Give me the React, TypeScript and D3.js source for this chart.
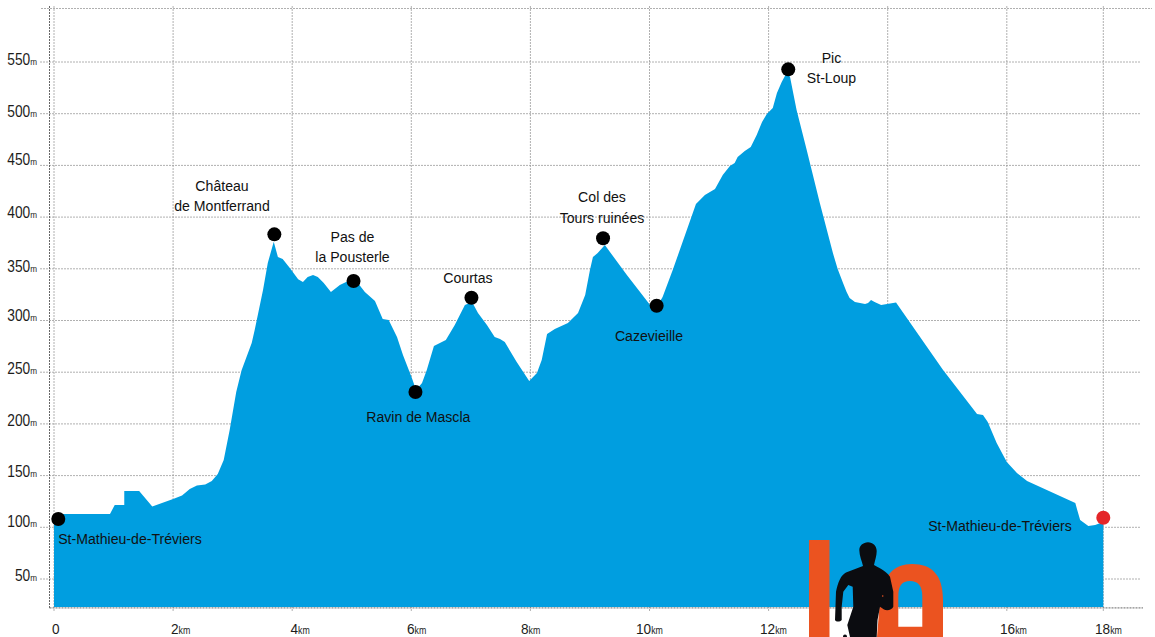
import React from "react";
import * as d3 from "d3";

const distanceKm = [0,0.94,1.02,1.18,1.18,1.43,1.65,2,2.15,2.28,2.4,2.54,2.65,2.75,2.85,2.95,3.06,3.15,3.32,3.37,3.51,3.59,3.69,3.76,3.84,3.96,4.1,4.18,4.26,4.35,4.43,4.53,4.65,4.8,4.94,5.09,5.22,5.39,5.52,5.62,5.76,5.86,6.01,6.08,6.18,6.26,6.38,6.58,6.73,6.9,7.02,7.12,7.27,7.4,7.49,7.57,7.77,7.98,8.11,8.19,8.28,8.41,8.63,8.8,8.92,9,9.05,9.13,9.25,9.62,10.01,10.12,10.22,10.39,10.78,10.93,11.1,11.23,11.35,11.43,11.48,11.6,11.7,11.8,11.89,11.97,12.07,12.14,12.22,12.31,12.36,12.47,12.64,12.86,13.08,13.16,13.25,13.31,13.36,13.45,13.62,13.67,13.72,13.78,13.89,14.14,14.93,15.5,15.6,15.68,15.83,16,16.21,16.42,17.42,17.46,17.52,17.69,17.83,18];
const elevationM = [112.9,112.9,121.6,121.6,135.1,135.1,120.1,127.4,130.7,137,140.4,141.4,144.8,151.5,165,194,230.8,252,278.2,290.8,329.5,355.6,376.2,361.4,359.4,350.7,340,337.2,342,344,342,336.2,327.5,334.3,338.2,337.2,327.5,318.8,301.4,300.5,284,266.6,244.4,232.8,239.5,252.1,275.3,281.1,295.6,315,317.9,307.2,295.6,284,282.1,279.2,259.8,241.5,249.2,261.8,286.9,291.8,297.6,307.2,324.6,348.8,361.4,365.2,373,344,315,313,322.7,348.8,412.6,421.3,427.1,440.7,449.4,452.3,458.1,463.9,467.7,479.3,491.9,499.7,505.5,520,530.6,540.3,535.4,503.5,464.8,413.6,365.2,349.8,336.2,327.5,321.7,317.9,315.9,316.9,319.8,317.9,315,317.4,252.1,209.6,208.6,201.8,181.5,163.1,152.5,144.8,123.5,116.7,107.1,101.2,102.2,105.1];
const baseElevation = 23;
const yTicks = [50,100,150,200,250,300,350,400,450,500,550];
const xTicks = [0,2,4,6,8,10,12,14,16,18];
const poiNames = [["St-Mathieu-de-Tréviers"],["Château","de Montferrand"],["Pas de","la Pousterle"],["Ravin de Mascla"],["Courtas"],["Col des","Tours ruinées"],["Cazevieille"],["Pic","St-Loup"],["St-Mathieu-de-Tréviers"]];
const poiKm = [0.072,3.7,5.03,6.07,7.01,9.22,10.12,12.33,18];
const poiM = [108,383.3,338.2,230.8,322,379.5,314.3,542.9,109.3];

// Hand-placed label anchors of the original artwork.
const poiLabelX = [130,222,352.5,418.3,468,602,649,831.5,1000];
const poiLabelY = [544,190.5,241.7,421.7,283,202,340.7,62.7,530.7];
const yTickLabelY = [581,527,477,426,374,321,272,218,165,117,65];
const xTickLabelX = [52,171,290.5,407,521,636,760,878,1000,1095];

const FONT = "'Liberation Sans', Arial, sans-serif";
const INK = "#1d1d1b";

export default function App() {
  const x = d3.scaleLinear().domain([0,16,18]).range([54,1006.8,1103.3]);
  const y = d3.scaleLinear().domain([50,550]).range([579,62]);
  const area = d3.area<number>()
    .x((_, i) => x(distanceKm[i]))
    .y0(y(baseElevation))
    .y1((d) => y(d));
  const axisY = y(baseElevation) + 1;
  const grid = { stroke: "#9c9c9c", strokeWidth: 0.8, strokeDasharray: "2 1" };
  const axis = { stroke: "#555", strokeWidth: 0.9, strokeDasharray: "2 1" };
  return (
    <svg width={1155} height={637} style={{ position: "absolute", left: 0, top: 0, background: "#fff" }} fontFamily={FONT}>
      {yTicks.map((t) => (
        <line key={t} x1={40} x2={1141} y1={y(t)} y2={y(t)} {...grid} />
      ))}
      <line x1={41} x2={1152} y1={8.5} y2={8.5} {...grid} />
      {xTicks.map((t) => (
        <line key={t} x1={x(t)} x2={x(t)} y1={6} y2={axisY + 4} {...grid} />
      ))}
      <line x1={49.5} x2={49.5} y1={6} y2={axisY} {...axis} />
      <line x1={49.5} x2={1143} y1={axisY} y2={axisY} {...axis} />
      <path d={area(elevationM) ?? ""} fill="#009ee0" />
      {yTicks.map((t, i) => (
        <text key={t} transform={`translate(37,${yTickLabelY[i]}) scale(0.86,1)`} textAnchor="end" fontSize={16} fill={INK}>
          {t}<tspan fontSize={9.5}>m</tspan>
        </text>
      ))}
      {xTicks.map((t, i) => (
        <text key={t} transform={`translate(${xTickLabelX[i]},634) scale(0.88,1)`} fontSize={15.5} fill={INK}>
          {t}{t > 0 && <tspan fontSize={10}>km</tspan>}
        </text>
      ))}
      {poiNames.map((lines, i) =>
        lines.map((l, j) => (
          <text key={`${i}-${j}`} transform={`translate(${poiLabelX[i]},${poiLabelY[i] + j * 20.5}) scale(0.94,1)`} fontSize={15} fill="#111" textAnchor="middle">
            {l}
          </text>
        ))
      )}
      {poiKm.map((k, i) => (
        <circle key={i} cx={x(k)} cy={y(poiM[i])} r={7} fill={i === poiKm.length - 1 ? "#e42528" : "#000"} />
      ))}
      <g>
        <rect x={809} y={540} width={20.5} height={97} fill="#eb5320" />
        <path d="M877,637 L880,600 C882,575 895,564 912,564 C932,564 943,575 943,600 L943,637 Z M898.3,626.7 L922.3,626.7 L922.3,596 C922.3,586 918,581 910,581 C902,581 898.3,586 898.3,596 Z" fill="#eb5320" fillRule="evenodd" />
        <path d="M868,542.3 C873,542.3 876.7,546 876.7,551 C876.7,556 875,560 874,565 C877,567 885,570 890,576.7 L893.3,591.7 L893.3,606.7 C892,610 887,611 884,609.5 L880,606.7 L877.5,620 L876.7,637 L850,637 L847.3,625 L853.3,606.7 L852.7,586.7 L848.3,585 L843.3,591.7 L841.7,606.7 L841.7,620 C840,622 836,622 835,620 L836,591.7 C838,582 841,575 846,572.5 L863,566 C862,561 859.3,556 859.3,550 C859.3,546 863,542.3 868,542.3 Z" fill="#0b0c10" />
        <circle cx={845} cy={636.5} r={2} fill="#0b0c10" />
        <circle cx={882.7} cy={596} r={0.8} fill="#eb5320" />
      </g>
    </svg>
  );
}
